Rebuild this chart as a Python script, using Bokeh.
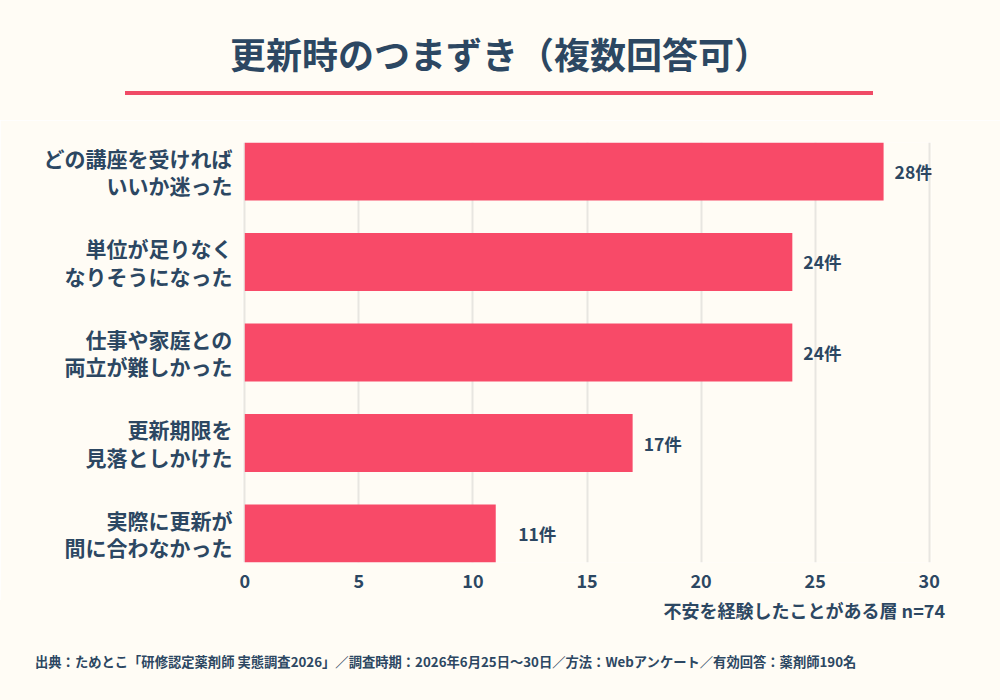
from bokeh.plotting import figure
from bokeh.models import ColumnDataSource, Range1d, FixedTicker, LabelSet, Div
from bokeh.layouts import column
from bokeh.core.properties import value
from bokeh.embed import file_html
from bokeh.resources import INLINE

# ---- data ----
categories = [
    "どの講座を受ければ\nいいか迷った",
    "単位が足りなく\nなりそうになった",
    "仕事や家庭との\n両立が難しかった",
    "更新期限を\n見落としかけた",
    "実際に更新が\n間に合わなかった",
]
counts = [28, 24, 24, 17, 11]
value_labels = [f"{c}件" for c in counts]
x_ticks = [0, 5, 10, 15, 20, 25, 30]

title_text = "更新時のつまずき（複数回答可）"
axis_label_text = "不安を経験したことがある層 n=74"
footer_text = ("出典：ためとこ「研修認定薬剤師 実態調査2026」／調査時期：2026年6月25日〜30日／"
               "方法：Webアンケート／有効回答：薬剤師190名")

# ---- style ----
FONT = "Noto Sans CJK JP"
NAVY = "#2c4762"
BAR = "#f84a68"
BG = "#fffcf5"
GRID = "#e8e6e1"
ACCENT = "#f04b66"

n = len(categories)
ypos = [n - 1 - i for i in range(n)]  # top item first
bar_h = 0.64
label_x = [max(c, 11.5) for c in counts]

src = ColumnDataSource(dict(y=ypos, v=counts, lab=value_labels, lx=label_x))

# header (title + accent line)
header = Div(width=1000, height=120, margin=0, text=f"""
<div style="position:relative;width:1000px;height:120px;background:{BG};font-family:'{FONT}';">
  <div style="position:absolute;left:0;top:28px;width:1000px;text-align:center;font-size:36px;
              font-weight:bold;color:{NAVY};line-height:50px;white-space:nowrap;">{title_text}</div>
  <div style="position:absolute;left:125px;top:91px;width:748px;height:4px;background:{ACCENT};"></div>
</div>""")

p = figure(width=1000, height=480, output_backend="svg", toolbar_location=None,
           x_range=Range1d(-0.1, 30.1), y_range=Range1d(-bar_h / 2, n - 1 + bar_h / 2),
           min_border_left=242, min_border_right=69, min_border_top=22,
           min_border_bottom=38, margin=0)
p.background_fill_color = BG
p.border_fill_color = BG
p.outline_line_color = None

p.hbar(y="y", right="v", left=0, height=bar_h, source=src, color=BAR, line_color=None)

p.add_layout(LabelSet(x="lx", y="y", text="lab", source=src, x_offset=11,
                      text_baseline="middle", text_align="left",
                      text_font=value(FONT), text_font_style="bold", text_font_size="17.5px",
                      text_color=NAVY))

# axes
p.xaxis.ticker = FixedTicker(ticks=x_ticks)
p.xaxis.axis_line_color = None
p.xaxis.major_tick_line_color = None
p.xaxis.minor_tick_line_color = None
p.xaxis.major_label_text_font = FONT
p.xaxis.major_label_text_font_style = "bold"
p.xaxis.major_label_text_font_size = "18px"
p.xaxis.major_label_text_color = NAVY
p.xaxis.major_label_standoff = 5

p.yaxis.ticker = FixedTicker(ticks=ypos)
p.yaxis.major_label_overrides = {y: c for y, c in zip(ypos, categories)}
p.yaxis.axis_line_color = None
p.yaxis.major_tick_line_color = None
p.yaxis.minor_tick_line_color = None
p.yaxis.major_label_text_font = FONT
p.yaxis.major_label_text_font_style = "bold"
p.yaxis.major_label_text_font_size = "21px"
p.yaxis.major_label_text_color = NAVY
p.yaxis.major_label_text_line_height = 0.92
p.yaxis.major_label_text_align = "right"
p.yaxis.major_label_standoff = 4

p.xgrid.grid_line_color = GRID
p.xgrid.grid_line_width = 2
p.ygrid.grid_line_color = None

footer = Div(width=1000, height=100, margin=0, text=f"""
<div style="position:relative;width:1000px;height:100px;background:{BG};font-family:'{FONT}';
            font-weight:bold;color:{NAVY};white-space:nowrap;">
  <div style="position:absolute;right:55px;top:-1px;font-size:18px;line-height:22px;">{axis_label_text}</div>
  <div style="position:absolute;left:35px;top:52px;font-size:13.3px;line-height:20px;">{footer_text}</div>
</div>""")

layout = column(header, p, footer, spacing=0, margin=0)
open("out.html", "w").write(file_html(layout, INLINE))
